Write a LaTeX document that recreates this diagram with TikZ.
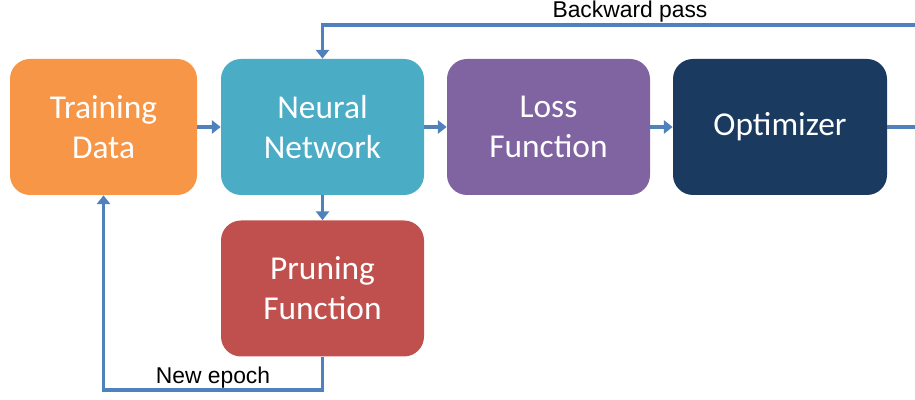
\documentclass[tikz,border=0pt]{standalone}
\usepackage{fontspec}
\setmainfont{Liberation Sans}
\newfontfamily\boxfont{Carlito}
\usetikzlibrary{arrows.meta}

\definecolor{trainorange}{HTML}{F79646}
\definecolor{netblue}{HTML}{4BACC6}
\definecolor{losspurple}{HTML}{8064A2}
\definecolor{optnavy}{HTML}{1B3A60}
\definecolor{prunered}{HTML}{C0504D}
\definecolor{linkblue}{HTML}{4F81BD}

\begin{document}
\begin{tikzpicture}[
  block/.style={rounded corners=0.4cm, text=white, align=center, minimum height=2.72cm,
    font=\boxfont\fontsize{19}{22.7}\selectfont},
  link/.style={draw=linkblue, line width=2pt, -{Triangle[length=5pt, width=7.5pt]}},
  tag/.style={font=\fontsize{13}{15}\selectfont}]
% fix the frame
\clip (0,0) rectangle (18.3,8);

% define the blocks
\node[block, fill=trainorange, minimum width=3.74cm] (data) at (2.07,5.46) {Training\\Data};
\node[block, fill=netblue, minimum width=4.06cm] (net) at (6.45,5.46) {Neural\\Network};
\node[block, fill=losspurple, minimum width=4.06cm] (loss) at (10.97,5.46) {Loss\\Function};
\node[block, fill=optnavy, minimum width=4.28cm] (opt) at (15.6,5.46) {\raisebox{-1.7pt}{Optimizer}};
\node[block, fill=prunered, minimum width=4.06cm] (prune) at (6.45,2.23) {Pruning\\Function};

% forward arrows
\draw[link] (data) -- (net);
\draw[link] (net) -- (loss);
\draw[link] (loss) -- (opt);
\draw[link] (net) -- (prune);

% backward pass
\coordinate (back) at (18.6,7.5);
\draw[link] (opt.east) -- (back |- opt.east) -- (back) -- (net.north |- back) -- (net.north);
\node[tag] (backlbl) at (12.6,7.76) {Backward pass};

% new epoch
\coordinate (epoch) at (2.07,0.2);
\draw[link] (prune.south) -- (prune.south |- epoch) -- (epoch) -- (data.south);
\node[tag] (epochlbl) at (4.26,0.44) {New epoch};

\end{tikzpicture}
\end{document}
